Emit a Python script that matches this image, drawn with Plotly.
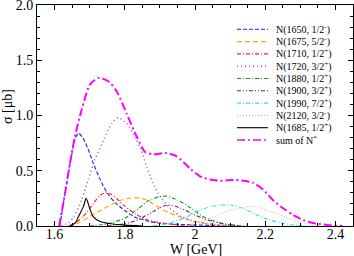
import plotly.graph_objects as go

# ---- data ----
W_1650 = [1.615, 1.63, 1.645, 1.658, 1.668, 1.68, 1.695, 1.71, 1.73, 1.75, 1.77, 1.8, 1.83, 1.87, 1.92, 2.0, 2.1]
S_1650 = [0, 0.3, 0.58, 0.78, 0.84, 0.8, 0.7, 0.57, 0.42, 0.3, 0.22, 0.14, 0.08, 0.04, 0.02, 0.01, 0]

W_1675 = [1.64, 1.67, 1.7, 1.75, 1.79, 1.825, 1.86, 1.88, 1.92, 1.96, 2.0, 2.05, 2.1]
S_1675 = [0, 0.03, 0.085, 0.175, 0.235, 0.256, 0.24, 0.2, 0.13, 0.08, 0.04, 0.015, 0]

W_1710 = [1.64, 1.66, 1.68, 1.71, 1.73, 1.745, 1.76, 1.78, 1.8, 1.83, 1.86, 1.9, 1.95, 2.0]
S_1710 = [0, 0.03, 0.08, 0.2, 0.28, 0.3, 0.29, 0.24, 0.18, 0.11, 0.06, 0.03, 0.01, 0]

W_1720 = [1.62, 1.64, 1.655, 1.677, 1.696, 1.715, 1.74, 1.763, 1.782, 1.805, 1.83, 1.845, 1.862, 1.88, 1.9, 1.93, 1.96, 2.0, 2.05, 2.1]
S_1720 = [0, 0.03, 0.085, 0.235, 0.42, 0.6, 0.78, 0.93, 0.98, 0.93, 0.8, 0.7, 0.54, 0.39, 0.27, 0.16, 0.085, 0.04, 0.015, 0]

W_1880 = [1.7, 1.75, 1.8, 1.84, 1.87, 1.9, 1.92, 1.95, 1.99, 2.02, 2.06, 2.1, 2.15]
S_1880 = [0, 0.02, 0.07, 0.16, 0.235, 0.265, 0.27, 0.235, 0.16, 0.09, 0.04, 0.01, 0]

W_1900 = [1.75, 1.8, 1.84, 1.88, 1.91, 1.93, 1.96, 2.0, 2.04, 2.08, 2.13]
S_1900 = [0, 0.02, 0.06, 0.13, 0.18, 0.19, 0.16, 0.1, 0.05, 0.02, 0]

W_1990 = [1.88, 1.92, 1.967, 2.005, 2.043, 2.08, 2.1, 2.137, 2.176, 2.214, 2.25, 2.29, 2.32]
S_1990 = [0, 0.02, 0.07, 0.13, 0.175, 0.19, 0.19, 0.16, 0.1, 0.054, 0.025, 0.005, 0]

W_2120 = [1.95, 2.0, 2.05, 2.1, 2.14, 2.17, 2.204, 2.242, 2.28, 2.318, 2.36]
S_2120 = [0, 0.02, 0.08, 0.14, 0.17, 0.175, 0.145, 0.1, 0.054, 0.02, 0]

W_1685 = [1.645, 1.66, 1.668, 1.682, 1.69, 1.7, 1.71, 1.73, 1.76, 1.8, 1.85]
S_1685 = [0, 0.03, 0.085, 0.175, 0.25, 0.16, 0.085, 0.04, 0.02, 0.008, 0]

W_SUM = [1.613, 1.63, 1.644, 1.658, 1.677, 1.701, 1.725, 1.753, 1.777, 1.805, 1.834, 1.858, 1.88, 1.919,
         1.948, 1.986, 2.014, 2.043, 2.071, 2.11, 2.14, 2.166, 2.194, 2.222, 2.251, 2.279, 2.308, 2.336, 2.376, 2.42]
S_SUM = [0, 0.3, 0.57, 0.81, 1.05, 1.28, 1.34, 1.31, 1.22, 1.02, 0.81, 0.67, 0.65, 0.66,
         0.63, 0.52, 0.45, 0.42, 0.41, 0.416, 0.41, 0.39, 0.33, 0.235, 0.16, 0.10, 0.054, 0.027, 0.01, 0]

NAMES = ["N(1650, 1/2<sup>-</sup>)", "N(1675, 5/2<sup>-</sup>)", "N(1710, 1/2<sup>+</sup>)",
         "N(1720, 3/2<sup>+</sup>)", "N(1880, 1/2<sup>+</sup>)", "N(1900, 3/2<sup>+</sup>)",
         "N(1990, 7/2<sup>+</sup>)", "N(2120, 3/2<sup>-</sup>)", "N(1685, 1/2<sup>+</sup>)",
         "sum of N<sup>*</sup>"]

SERIES = [(W_1650, S_1650), (W_1675, S_1675), (W_1710, S_1710), (W_1720, S_1720),
          (W_1880, S_1880), (W_1900, S_1900), (W_1990, S_1990), (W_2120, S_2120),
          (W_1685, S_1685), (W_SUM, S_SUM)]

COLORS = ["#1f1fff", "#ffa500", "#ff2020", "#9a55d8", "#12a012", "#7a1a5a",
          "#22e8e8", "#e0b0b8", "#000000", "#ff00ff"]
DASHES = ["4px,2px", "5px,3px", "4px,2px,1px,2px", "1px,3px", "4px,2px,1px,2px",
          "4px,2px,1px,2px,1px,2px", "4px,2px,1px,2px", "1px,2px", "solid", "8px,3px,2px,3px"]
WIDTHS = [1.1, 1.1, 1.1, 1.6, 1.1, 1.1, 1.1, 1.1, 1.1, 2.0]

FONT = "Liberation Serif"

fig = go.Figure()
for name, (w, s), c, d, lw in zip(NAMES, SERIES, COLORS, DASHES, WIDTHS):
    fig.add_trace(go.Scatter(x=w, y=s, mode="lines", name=name, showlegend=False,
                             line=dict(color=c, dash=d, width=lw, shape="spline", smoothing=0.7)))

# manual legend (compact rows like the reference)
L, R, T, B = 37, 353, 5, 226
def px(xp): return (xp - L) / (R - L)
def py(yp): return (B - yp) / (B - T)
for i, (name, c, d, lw) in enumerate(zip(NAMES, COLORS, DASHES, WIDTHS)):
    yy = 29.3 + 12.3 * i
    fig.add_shape(type="line", xref="paper", yref="paper", x0=px(237), x1=px(268), y0=py(yy), y1=py(yy),
                  line=dict(color=c, dash=d, width=min(lw, 1.6)))
    fig.add_annotation(xref="paper", yref="paper", x=px(274), y=py(yy), text=name, showarrow=False,
                       xanchor="left", yanchor="middle", font=dict(size=10, color="black", family=FONT))

# axis titles
fig.add_annotation(xref="paper", yref="paper", x=px(196), y=py(249), text="W [GeV]", showarrow=False,
                   xanchor="center", yanchor="middle", font=dict(size=14, color="black", family=FONT))
fig.add_annotation(xref="paper", yref="paper", x=px(7), y=py(106), text="σ [μb]", showarrow=False,
                   textangle=-90, xanchor="center", yanchor="middle",
                   font=dict(size=14, color="black", family=FONT))

axis_common = dict(showline=True, linecolor="black", linewidth=1, mirror="allticks",
                   ticks="inside", ticklen=5, tickcolor="black", showgrid=False, zeroline=False,
                   ticklabeloverflow="allow",
                   tickfont=dict(size=14, family=FONT, color="black"))
fig.update_xaxes(range=[1.55, 2.45], dtick=0.2, tick0=1.6, ticklabelstandoff=-5,
                 minor=dict(dtick=0.05, tick0=1.6, ticks="inside", ticklen=3, tickcolor="black"),
                 **axis_common)
fig.update_yaxes(range=[0, 2.0], dtick=0.5, tick0=0, tickformat=".1f",
                 minor=dict(dtick=0.1, tick0=0, ticks="inside", ticklen=3, tickcolor="black"),
                 **axis_common)
fig.update_layout(width=354, height=256, margin=dict(l=37, r=1, t=5, b=30, autoexpand=False),
                  plot_bgcolor="white", paper_bgcolor="white",
                  font=dict(family=FONT, color="black"))
fig.write_html("out.html", config={"displayModeBar": False},
               post_script="document.body.style.margin='0px';document.body.style.overflow='hidden';")
